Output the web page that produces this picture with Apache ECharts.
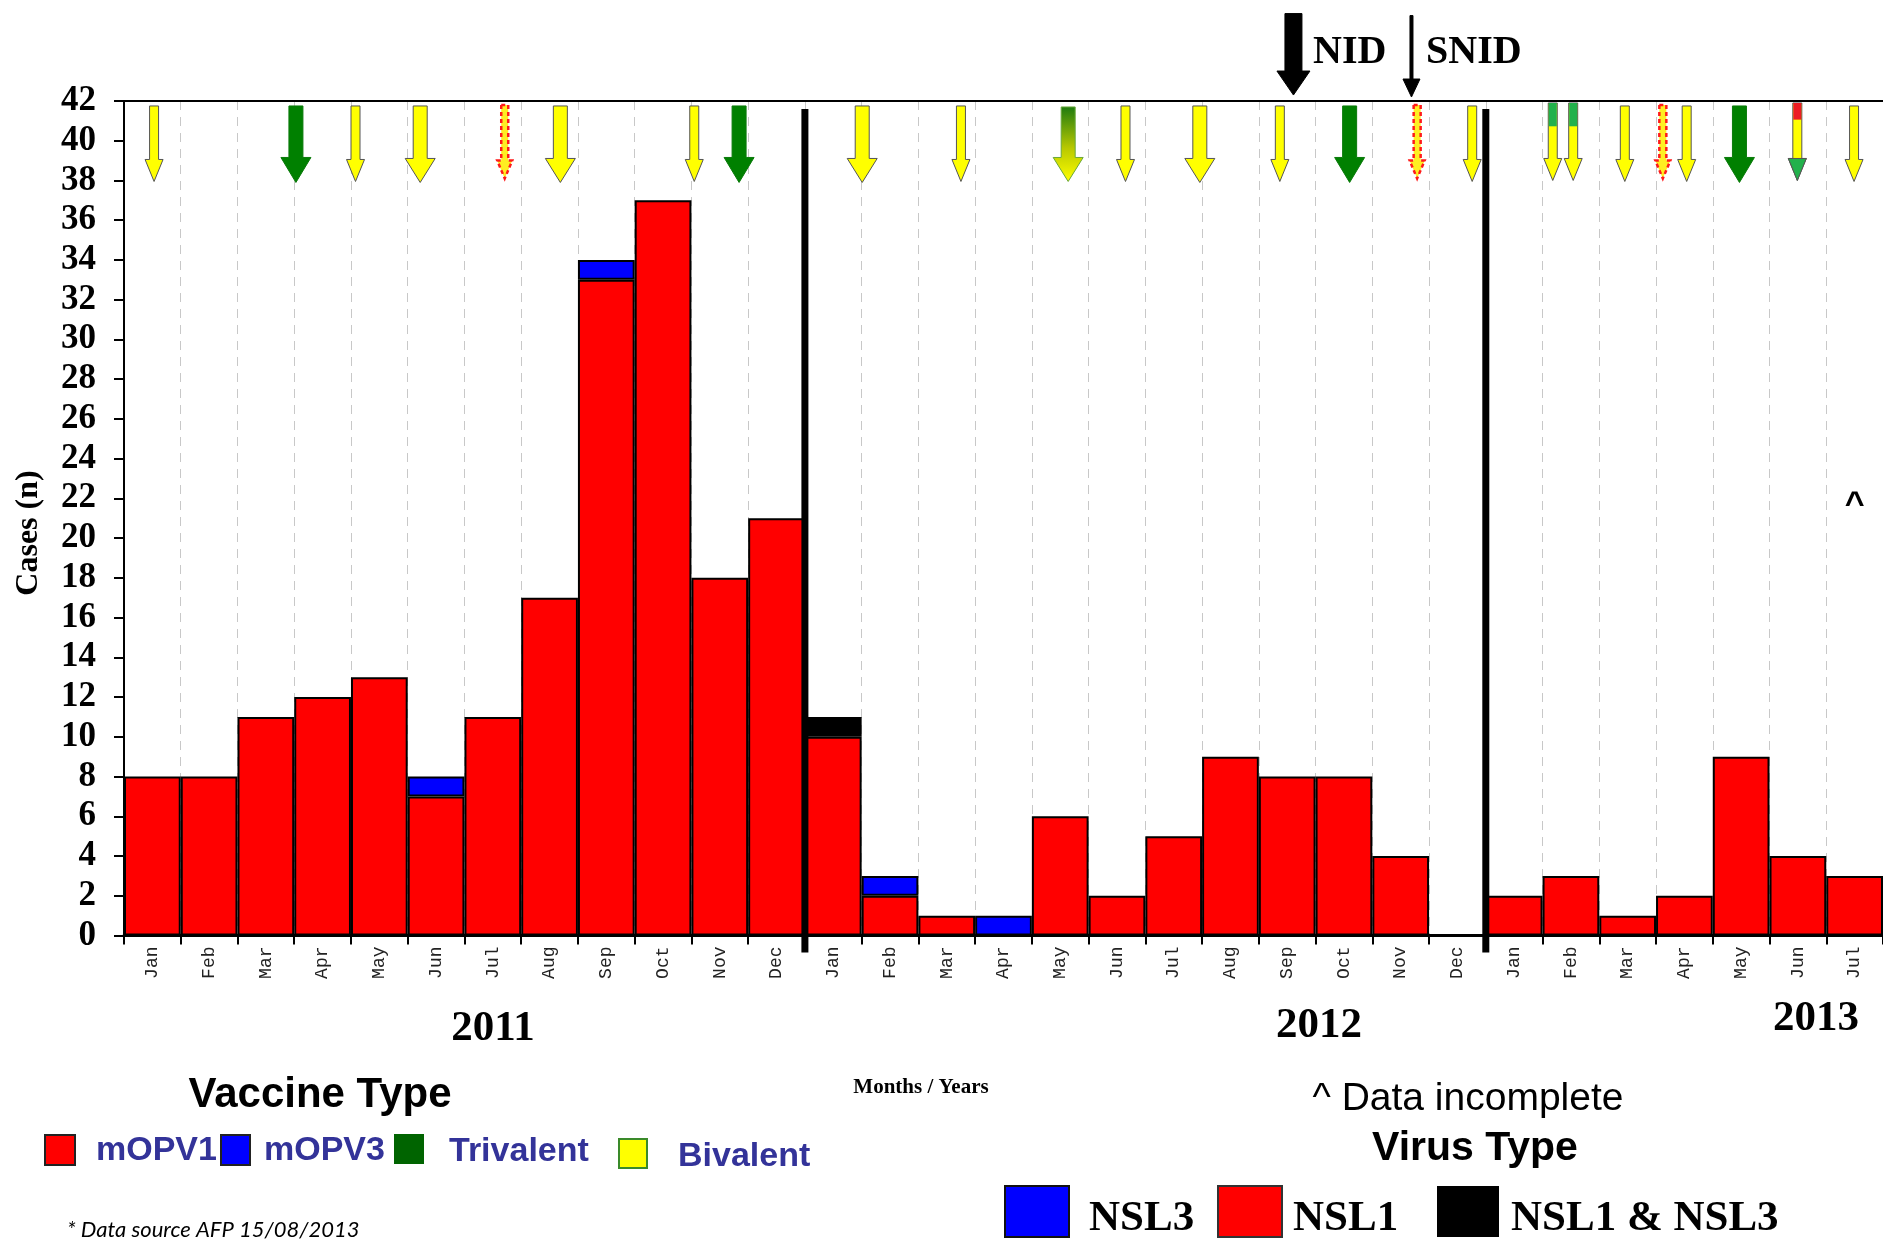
<!DOCTYPE html>
<html><head><meta charset="utf-8">
<script src="https://cdn.jsdelivr.net/npm/echarts@6/dist/echarts.min.js"></script>
<style>html,body{margin:0;padding:0;background:#fff}#c{width:1883px;height:1240px}</style>
</head><body><div id="c"></div>
<script>
// ---------------- DATA ----------------
const months = ['Jan','Feb','Mar','Apr','May','Jun','Jul','Aug','Sep','Oct','Nov','Dec',
                'Jan','Feb','Mar','Apr','May','Jun','Jul','Aug','Sep','Oct','Nov','Dec',
                'Jan','Feb','Mar','Apr','May','Jun','Jul'];
const nsl1  = [8,8,11,12,13,7,11,17,33,37,18,21, 10,2,1,0,6,2,5,9,8,8,4,0, 2,3,1,2,9,4,3];
const nsl3  = [0,0,0,0,0,1,0,0,1,0,0,0, 0,1,0,1,0,0,0,0,0,0,0,0, 0,0,0,0,0,0,0];
const nsl13 = [0,0,0,0,0,0,0,0,0,0,0,0, 1,0,0,0,0,0,0,0,0,0,0,0, 0,0,0,0,0,0,0];
const yTicks = [0,2,4,6,8,10,12,14,16,18,20,22,24,26,28,30,32,34,36,38,40,42];
// campaign arrows: position in months since 1 Jan 2011, and vaccine kind
const campaignMonth = [0.53,3.03,4.08,5.22,6.71,7.69,10.05,10.84,13.01,14.75,16.64,17.65,18.96,
                       20.37,21.6,22.79,23.76,25.18,25.54,26.45,27.12,27.54,28.47,29.49,30.49];
const campaignKind  = ['ys','gb','ys','yb','wavy','yb','ys','gb','yb','ys','gyb','ys','yb',
                       'ys','gb','wavy','ys','gys','gys','ys','wavy','ys','gb','ryg','ys'];
const nidMonth = [20.61, 22.69];
const nidKind  = ['nid','snid'];
const yearBreaks = [12, 24];
const incompleteMonth = [30.5];

// ---------------- CHART ----------------
const chart = echarts.init(document.getElementById('c'), null, {renderer:'canvas'});
const zeroToNull = a => a.map(v => v === 0 ? null : v);
const SERIF = '"Liberation Serif","Times New Roman",serif';
const SANS = '"Liberation Sans",Arial,sans-serif';

const kindSpec = {
  ys:   {sw:9,  hw:18, hh:22, top:41.75, tip:37.95},
  yb:   {sw:14, hw:30, hh:24, top:41.75, tip:37.9},
  gb:   {sw:14, hw:30, hh:25, top:41.75, tip:37.9},
  gyb:  {sw:14, hw:30, hh:24, top:41.7,  tip:37.95},
  wavy: {sw:7,  hw:15, hh:18, top:41.8,  tip:38.1},
  gys:  {sw:9,  hw:18, hh:22, top:41.9,  tip:38.0},
  ryg:  {sw:9,  hw:18, hh:22, top:41.9,  tip:38.0},
  nid:  {sw:17, hw:33, hh:24, top:46.4,  tip:42.3},
  snid: {sw:3,  hw:17, hh:18, top:46.3,  tip:42.2}
};

function arrowPts(x, yTop, yTip, s) {
  const yHead = yTip - s.hh;
  return [[x - s.sw/2, yTop],[x + s.sw/2, yTop],[x + s.sw/2, yHead],[x + s.hw/2, yHead],
          [x, yTip],[x - s.hw/2, yHead],[x - s.sw/2, yHead]];
}

function renderArrow(kind, api, m) {
  const s = kindSpec[kind];
  const pTop = api.coord([m, s.top]);
  const pTip = api.coord([m, s.tip]);
  const x = pTop[0], yTop = pTop[1], yTip = pTip[1];
  const yHead = yTip - s.hh;
  const pts = arrowPts(x, yTop, yTip, s);
  const yellow = '#ffff00', edge = '#555555';
  if (kind === 'ys' || kind === 'yb') {
    return {type:'polygon', shape:{points:pts}, style:{fill:yellow, stroke:edge, lineWidth:1}};
  }
  if (kind === 'gb') {
    return {type:'polygon', shape:{points:pts}, style:{fill:'#008000', stroke:'#0a7a0a', lineWidth:1}};
  }
  if (kind === 'gyb') {
    return {type:'polygon', shape:{points:pts}, style:{
      fill:new echarts.graphic.LinearGradient(0,0,0,1,[{offset:0,color:'#1e7a10'},{offset:0.55,color:'#b8c800'},{offset:1,color:'#ffff00'}]),
      stroke:'#6aa83a', lineWidth:1}};
  }
  if (kind === 'wavy') {
    return {type:'polygon', shape:{points:pts}, style:{fill:'#ffee22', stroke:'#ff1a1a', lineWidth:2.5, lineDash:[4,3]}};
  }
  if (kind === 'gys' || kind === 'ryg') {
    const children = [
      {type:'polygon', shape:{points:pts}, style:{fill:yellow, stroke:edge, lineWidth:1}}
    ];
    if (kind === 'gys') {
      children.push({type:'rect', shape:{x:x - s.sw/2 + 0.5, y:yTop, width:s.sw - 1, height:(yHead - yTop) * 0.42},
                     style:{fill:'#22b14c'}});
    } else {
      children.push({type:'rect', shape:{x:x - s.sw/2 + 0.5, y:yTop, width:s.sw - 1, height:(yHead - yTop) * 0.3},
                     style:{fill:'#ed1c24'}});
      children.push({type:'polygon', shape:{points:[[x + s.hw/2, yHead],[x, yTip],[x - s.hw/2, yHead]]},
                     style:{fill:'#22b14c', stroke:edge, lineWidth:1}});
    }
    return {type:'group', children};
  }
  if (kind === 'nid' || kind === 'snid') {
    return {type:'polygon', shape:{points:pts}, style:{fill:'#000', stroke:'#000', lineWidth:1}};
  }
}

const option = {
  animation:false,
  backgroundColor:'#fff',
  grid:{left:124, top:101, right:0, bottom:304.5, containLabel:false},
  xAxis:[{
    type:'category', data:months, position:'bottom',
    axisLine:{show:true, lineStyle:{color:'#000', width:3}},
    axisTick:{show:true, length:9, lineStyle:{color:'#000', width:2}},
    axisLabel:{rotate:90, margin:11, fontFamily:'"Liberation Mono","Courier New",monospace', fontSize:18, color:'#222'},
    splitLine:{show:true, lineStyle:{color:'#c8c8c8', width:1, type:[9,7]}}
  },{
    type:'value', min:0, max:31, position:'top', show:true,
    axisLine:{show:true, onZero:false, lineStyle:{color:'#000', width:2}},
    axisTick:{show:false}, axisLabel:{show:false}, splitLine:{show:false}
  }],
  yAxis:[{
    type:'value', min:yTicks[0], max:yTicks[yTicks.length-1], interval:yTicks[1]-yTicks[0],
    axisLine:{show:true, lineStyle:{color:'#000', width:2}},
    axisTick:{show:true, length:10, lineStyle:{color:'#000', width:2}},
    axisLabel:{margin:28, fontFamily:SERIF, fontWeight:'bold', fontSize:35, color:'#000'},
    splitLine:{show:false}
  }],
  series:[
    {name:'NSL1', type:'bar', stack:'v', data:nsl1, barCategoryGap:'0%',
     itemStyle:{color:'#ff0000', borderColor:'#000', borderWidth:2}},
    {name:'NSL3', type:'bar', stack:'v', data:zeroToNull(nsl3),
     itemStyle:{color:'#0000ff', borderColor:'#000', borderWidth:2}},
    {name:'NSL1 & NSL3', type:'bar', stack:'v', data:zeroToNull(nsl13),
     itemStyle:{color:'#000000', borderColor:'#000', borderWidth:2}},
    {name:'breaks', type:'custom', xAxisIndex:1, yAxisIndex:0, clip:false, z:5,
     data:yearBreaks.map(m => [m, 0]),
     renderItem:(params, api) => {
       const m = api.value(0);
       const pTop = api.coord([m, 41.6]);
       const pBot = api.coord([m, 0]);
       return {type:'rect', shape:{x:pTop[0]-3.5, y:pTop[1], width:7, height:pBot[1]+17-pTop[1]}, style:{fill:'#000'}};
     }},
    {name:'campaigns', type:'custom', xAxisIndex:1, yAxisIndex:0, clip:false, z:6,
     data:campaignMonth.map(m => [m, 40]),
     renderItem:(params, api) => renderArrow(campaignKind[params.dataIndex], api, api.value(0))},
    {name:'nid', type:'custom', xAxisIndex:1, yAxisIndex:0, clip:false, z:6,
     data:nidMonth.map(m => [m, 44]),
     renderItem:(params, api) => renderArrow(nidKind[params.dataIndex], api, api.value(0))},
    {name:'incomplete', type:'custom', xAxisIndex:1, yAxisIndex:0, clip:false, z:6,
     data:incompleteMonth.map(m => [m, 22]),
     renderItem:(params, api) => {
       const p = api.coord([api.value(0), api.value(1)]);
       return {type:'text', style:{x:p[0], y:p[1]+6, text:'^', font:'bold 34px ' + SANS, fill:'#000', align:'center', verticalAlign:'middle'}};
     }}
  ],
  graphic:[
    {type:'text', x:29, y:533, rotation:Math.PI/2, style:{text:'Cases (n)', font:'bold 32px ' + SERIF, fill:'#000', align:'center', verticalAlign:'middle'}},
    {type:'text', style:{x:493, y:1029, text:'2011', font:'bold 43px ' + SERIF, fill:'#000', align:'center', verticalAlign:'middle'}},
    {type:'text', style:{x:1319, y:1026, text:'2012', font:'bold 43px ' + SERIF, fill:'#000', align:'center', verticalAlign:'middle'}},
    {type:'text', style:{x:1816, y:1019, text:'2013', font:'bold 43px ' + SERIF, fill:'#000', align:'center', verticalAlign:'middle'}},
    {type:'text', style:{x:921, y:1088, text:'Months / Years', font:'bold 21px ' + SERIF, fill:'#000', align:'center', verticalAlign:'middle'}},
    {type:'text', style:{x:1313, y:53, text:'NID', font:'bold 40px ' + SERIF, fill:'#000', align:'left', verticalAlign:'middle'}},
    {type:'text', style:{x:1426, y:53, text:'SNID', font:'bold 40px ' + SERIF, fill:'#000', align:'left', verticalAlign:'middle'}},
    // Vaccine legend
    {type:'text', style:{x:320, y:1095, text:'Vaccine Type', font:'bold 42px ' + SANS, fill:'#000', align:'center', verticalAlign:'middle'}},
    {type:'rect', shape:{x:45, y:1135, width:30, height:30}, style:{fill:'#ff0000', stroke:'#222', lineWidth:2}},
    {type:'text', style:{x:96, y:1151, text:'mOPV1', font:'bold 34px ' + SANS, fill:'#333399', align:'left', verticalAlign:'middle'}},
    {type:'rect', shape:{x:221, y:1135, width:29, height:30}, style:{fill:'#0000ff', stroke:'#222', lineWidth:2}},
    {type:'text', style:{x:264, y:1151, text:'mOPV3', font:'bold 34px ' + SANS, fill:'#333399', align:'left', verticalAlign:'middle'}},
    {type:'rect', shape:{x:394, y:1134, width:30, height:30}, style:{fill:'#006400'}},
    {type:'text', style:{x:449, y:1152, text:'Trivalent', font:'bold 34px ' + SANS, fill:'#333399', align:'left', verticalAlign:'middle'}},
    {type:'rect', shape:{x:619, y:1139, width:28, height:29}, style:{fill:'#ffff00', stroke:'#3a8a2a', lineWidth:2}},
    {type:'text', style:{x:678, y:1157, text:'Bivalent', font:'bold 34px ' + SANS, fill:'#333399', align:'left', verticalAlign:'middle'}},
    {type:'text', style:{x:67, y:1230, text:'* Data source AFP 15/08/2013', font:'italic 22px Lato,"Open Sans",sans-serif', fill:'#000', align:'left', verticalAlign:'middle'}},
    // Virus legend
    {type:'text', style:{x:1468, y:1099, text:'^ Data incomplete', font:'39px ' + SANS, fill:'#000', align:'center', verticalAlign:'middle'}},
    {type:'text', style:{x:1475, y:1149, text:'Virus Type', font:'bold 41px ' + SANS, fill:'#000', align:'center', verticalAlign:'middle'}},
    {type:'rect', shape:{x:1005, y:1186, width:64, height:51}, style:{fill:'#0000ff', stroke:'#111', lineWidth:2}},
    {type:'text', style:{x:1089, y:1219, text:'NSL3', font:'bold 43px ' + SERIF, fill:'#000', align:'left', verticalAlign:'middle'}},
    {type:'rect', shape:{x:1218, y:1186, width:64, height:51}, style:{fill:'#ff0000', stroke:'#333', lineWidth:2}},
    {type:'text', style:{x:1293, y:1219, text:'NSL1', font:'bold 43px ' + SERIF, fill:'#000', align:'left', verticalAlign:'middle'}},
    {type:'rect', shape:{x:1437, y:1186, width:62, height:51}, style:{fill:'#000000'}},
    {type:'text', style:{x:1511, y:1219, text:'NSL1 & NSL3', font:'bold 43px ' + SERIF, fill:'#000', align:'left', verticalAlign:'middle'}}
  ]
};
chart.setOption(option);
</script>
</body></html>
